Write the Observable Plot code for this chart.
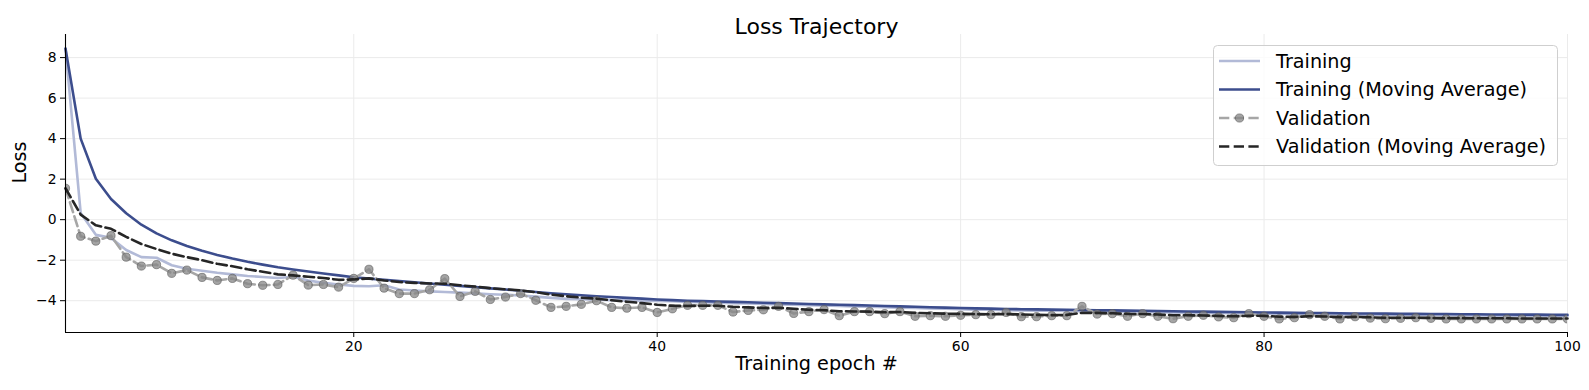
<!DOCTYPE html>
<html><head><meta charset="utf-8">
<script src="https://cdn.jsdelivr.net/npm/d3@7"></script>
<script src="https://cdn.jsdelivr.net/npm/@observablehq/plot@0.6"></script>
<style>
body{margin:0;background:#fff;}
#wrap{position:relative;width:1589px;height:390px;font-family:"DejaVu Sans",sans-serif;}
#legend{position:absolute;left:1213px;top:45px;}
</style></head><body><div id="wrap"></div>
<script>
const epochs = d3.range(1, 101);
const trainLoss = [8.45,0.33,-0.75,-0.9,-1.5,-1.85,-1.88,-2.25,-2.42,-2.52,
-2.62,-2.7,-2.78,-2.83,-2.88,-2.82,-3.0,-3.12,-3.2,-3.27,
-3.29,-3.24,-3.45,-3.5,-3.54,-3.57,-3.6,-3.64,-3.68,-3.71,
-3.74,-3.8,-3.86,-3.91,-3.93,-3.95,-3.97,-3.99,-4.0,-4.01,
-4.03,-4.06,-4.08,-4.1,-4.12,-4.14,-4.16,-4.18,-4.2,-4.22,
-4.24,-4.26,-4.28,-4.3,-4.32,-4.34,-4.36,-4.38,-4.4,-4.42,
-4.44,-4.45,-4.47,-4.48,-4.49,-4.5,-4.51,-4.52,-4.53,-4.54,
-4.55,-4.56,-4.57,-4.58,-4.59,-4.6,-4.61,-4.62,-4.63,-4.64,
-4.65,-4.66,-4.67,-4.67,-4.68,-4.69,-4.69,-4.7,-4.71,-4.71,
-4.72,-4.72,-4.73,-4.73,-4.74,-4.74,-4.75,-4.75,-4.76,-4.76];
const trainMA = [8.45,4.0,2.02,1.02,0.32,-0.25,-0.68,-1.02,-1.3,-1.53,
-1.74,-1.92,-2.08,-2.22,-2.35,-2.46,-2.56,-2.66,-2.75,-2.84,
-2.91,-2.97,-3.03,-3.09,-3.15,-3.21,-3.27,-3.33,-3.39,-3.45,
-3.51,-3.57,-3.63,-3.68,-3.73,-3.78,-3.82,-3.86,-3.9,-3.94,
-3.97,-4.0,-4.02,-4.04,-4.06,-4.08,-4.1,-4.12,-4.14,-4.16,
-4.18,-4.2,-4.22,-4.24,-4.26,-4.28,-4.3,-4.32,-4.34,-4.36,
-4.38,-4.39,-4.41,-4.42,-4.43,-4.44,-4.45,-4.46,-4.47,-4.48,
-4.49,-4.5,-4.51,-4.52,-4.53,-4.54,-4.55,-4.56,-4.57,-4.58,
-4.59,-4.6,-4.61,-4.61,-4.62,-4.63,-4.63,-4.64,-4.65,-4.65,
-4.66,-4.66,-4.67,-4.67,-4.68,-4.68,-4.69,-4.69,-4.7,-4.7];
const valLoss = [1.55,-0.82,-1.06,-0.79,-1.85,-2.29,-2.22,-2.65,-2.49,-2.85,
-3.0,-2.9,-3.16,-3.24,-3.2,-2.74,-3.23,-3.2,-3.33,-2.9,
-2.45,-3.38,-3.65,-3.65,-3.46,-2.91,-3.79,-3.54,-3.94,-3.82,
-3.65,-3.98,-4.33,-4.28,-4.18,-4.0,-4.33,-4.37,-4.33,-4.58,
-4.4,-4.23,-4.23,-4.23,-4.56,-4.48,-4.45,-4.28,-4.63,-4.54,
-4.44,-4.74,-4.54,-4.54,-4.64,-4.54,-4.77,-4.74,-4.77,-4.72,
-4.69,-4.69,-4.58,-4.79,-4.79,-4.74,-4.74,-4.28,-4.66,-4.64,
-4.77,-4.64,-4.77,-4.89,-4.77,-4.72,-4.8,-4.84,-4.64,-4.77,
-4.9,-4.84,-4.69,-4.77,-4.9,-4.79,-4.86,-4.89,-4.87,-4.84,
-4.87,-4.9,-4.9,-4.9,-4.9,-4.9,-4.9,-4.9,-4.9,-4.9];
const valMA = [1.55,0.25,-0.28,-0.45,-0.85,-1.2,-1.45,-1.68,-1.85,-2.0,
-2.18,-2.3,-2.45,-2.57,-2.7,-2.75,-2.82,-2.88,-2.97,-2.95,
-2.9,-3.0,-3.08,-3.12,-3.15,-3.16,-3.24,-3.3,-3.38,-3.44,
-3.49,-3.58,-3.7,-3.78,-3.85,-3.9,-3.98,-4.05,-4.12,-4.2,
-4.25,-4.26,-4.25,-4.25,-4.3,-4.33,-4.36,-4.35,-4.4,-4.45,
-4.47,-4.52,-4.53,-4.54,-4.57,-4.56,-4.6,-4.62,-4.64,-4.65,
-4.66,-4.67,-4.66,-4.68,-4.7,-4.71,-4.7,-4.6,-4.6,-4.62,
-4.65,-4.66,-4.68,-4.72,-4.72,-4.73,-4.75,-4.77,-4.74,-4.75,
-4.79,-4.8,-4.77,-4.78,-4.81,-4.8,-4.82,-4.84,-4.84,-4.84,
-4.85,-4.86,-4.86,-4.87,-4.87,-4.87,-4.88,-4.88,-4.88,-4.88];
const xTicks = [20, 40, 60, 80, 100];
const yTicks = [-4, -2, 0, 2, 4, 6, 8];
const legendLabels = ["Training", "Training (Moving Average)", "Validation", "Validation (Moving Average)"];
const titleText = "Loss Trajectory";
const xLabel = "Training epoch #";
const yLabel = "Loss";

const table = epochs.map((e, i) => ({epoch: e, train: trainLoss[i], trainMA: trainMA[i], val: valLoss[i], valMA: valMA[i]}));
const yDomain = [-5.57, 9.14];
const C = {train: "#b2bad7", trainMA: "#3c4d8d", val: "#a6a6a6", valMA: "#262626"};
const dash = "10.3,4.4";
const LW = 2.6;

const chart = Plot.plot({
  width: 1589, height: 390,
  marginLeft: 65, marginRight: 22, marginTop: 34, marginBottom: 58,
  style: {fontFamily: "DejaVu Sans", fontSize: "13.9px", background: "#fff", color: "#000", overflow: "visible"},
  x: {domain: [1, 100]},
  y: {domain: yDomain},
  marks: [
    Plot.gridX(xTicks, {stroke: "#ebebeb", strokeOpacity: 1}),
    Plot.gridY(yTicks, {stroke: "#ebebeb", strokeOpacity: 1}),
    Plot.line(table, {x: "epoch", y: "train", stroke: C.train, strokeWidth: LW}),
    Plot.line(table, {x: "epoch", y: "trainMA", stroke: C.trainMA, strokeWidth: LW}),
    Plot.line(table, {x: "epoch", y: "val", stroke: C.val, strokeWidth: LW, strokeDasharray: dash}),
    Plot.dot(table, {x: "epoch", y: "val", r: 4.1, fill: "#858585", fillOpacity: 0.75, stroke: "#5a5a5a", strokeOpacity: 0.6, strokeWidth: 1, clip: true}),
    Plot.line(table, {x: "epoch", y: "valMA", stroke: C.valMA, strokeWidth: LW, strokeDasharray: dash}),
    Plot.ruleX([1], {stroke: "#000", strokeWidth: 1.1}),
    Plot.ruleY([yDomain[0]], {stroke: "#000", strokeWidth: 1.1}),
    Plot.axisX({ticks: xTicks, tickSize: 5, tickPadding: 4, label: null}),
    Plot.axisY({ticks: yTicks, tickSize: 5, tickPadding: 4, label: null}),
    Plot.text([titleText], {frameAnchor: "top", dy: -16, fontSize: 22, fill: "#000"}),
    Plot.text([xLabel], {frameAnchor: "bottom", dy: 37, fontSize: 19.2, fill: "#000"}),
    Plot.text([yLabel], {frameAnchor: "left", dx: -46, rotate: -90, fontSize: 19.2, fill: "#000"})
  ]
});
const wrap = document.getElementById("wrap");
wrap.appendChild(chart);

// legend
const lg = d3.select(wrap).append("svg").attr("id", "legend").attr("width", 346).attr("height", 122);
lg.append("rect").attr("x", 0.5).attr("y", 0.5).attr("width", 344).attr("height", 120).attr("rx", 4)
  .attr("fill", "#fff").attr("fill-opacity", 0.8).attr("stroke", "#cfcfcf");
const styles = [
  {stroke: C.train, dash: null, dot: false},
  {stroke: C.trainMA, dash: null, dot: false},
  {stroke: C.val, dash: dash, dot: true},
  {stroke: C.valMA, dash: dash, dot: false}
];
legendLabels.forEach((name, i) => {
  const cy = 16 + i * 28.5;
  const s = styles[i];
  lg.append("line").attr("x1", 6).attr("x2", 47).attr("y1", cy).attr("y2", cy)
    .attr("stroke", s.stroke).attr("stroke-width", LW).attr("stroke-dasharray", s.dash);
  if (s.dot) lg.append("circle").attr("cx", 26.5).attr("cy", cy).attr("r", 4.1)
    .attr("fill", "#858585").attr("fill-opacity", 0.75).attr("stroke", "#5a5a5a").attr("stroke-opacity", 0.6);
  lg.append("text").attr("x", 63).attr("y", cy).attr("dy", "0.35em")
    .attr("font-family", "DejaVu Sans").attr("font-size", 19.2).attr("fill", "#000").text(name);
});
</script></body></html>
